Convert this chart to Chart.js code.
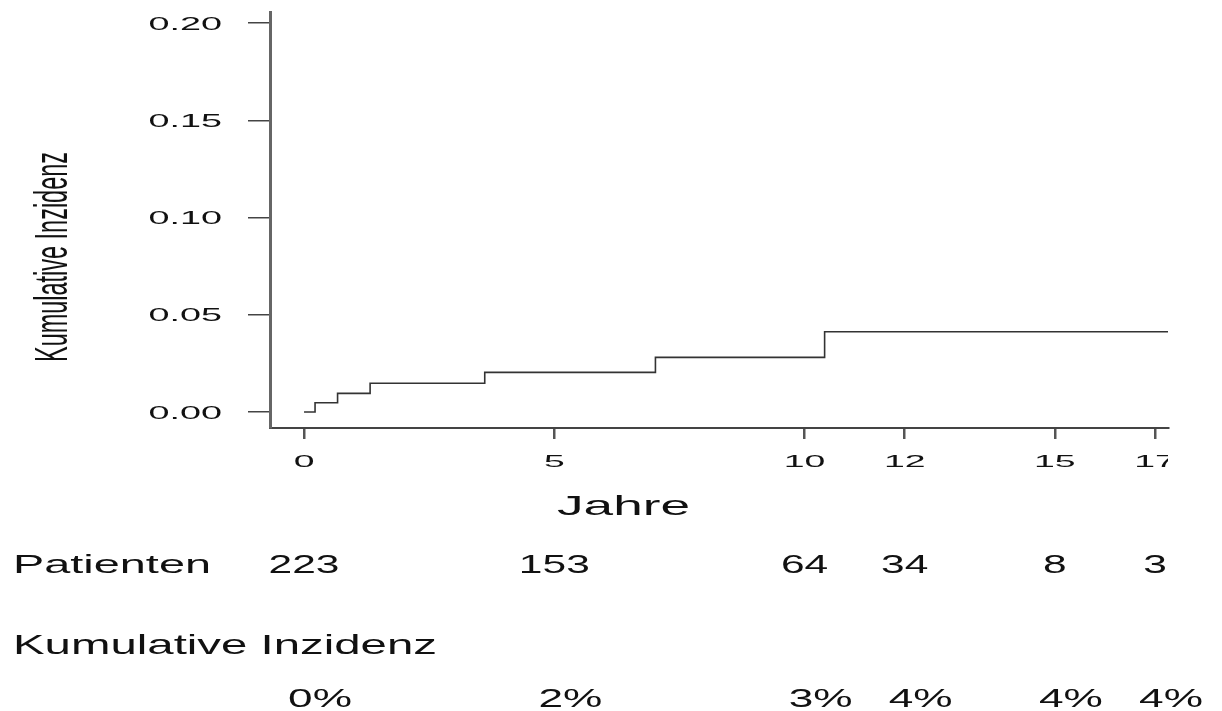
<!DOCTYPE html>
<html>
<head>
<meta charset="utf-8">
<script src="https://cdn.jsdelivr.net/npm/chart.js@4/dist/chart.umd.min.js"></script>
<style>
  html, body { margin: 0; padding: 0; background: #fff; }
  #wrap { width: 1222px; height: 711px; }
</style>
</head>
<body>
<div id="wrap"><canvas id="c" width="1222" height="711"></canvas></div>
<script>
// step curve (years, cumulative incidence)
const eventYears = [0, 0.22, 0.67, 1.32, 3.61, 7.02, 10.4, 17.26];
const cumIncidence = [0, 0.0048, 0.0096, 0.0148, 0.0204, 0.0281, 0.0413, 0.0413];

const xTickValues = [0, 5, 10, 12, 15, 17];
const yTickValues = [0, 0.05, 0.10, 0.15, 0.20];
const yTickLabels = ['0.00', '0.05', '0.10', '0.15', '0.20'];

// table under the plot
const tableYears = [0, 5, 10, 12, 15, 17];
const patients = [223, 153, 64, 34, 8, 3];
const incidencePct = ['0%', '2%', '3%', '4%', '4%', '4%'];

const FONT = '"Liberation Sans", Arial, sans-serif';

function txt(ctx, s, x, y, size, sx, align, family) {
  ctx.save();
  ctx.font = size + 'px ' + (family || FONT);
  ctx.textAlign = align || 'left';
  ctx.textBaseline = 'alphabetic';
  ctx.translate(x, y);
  ctx.scale(sx, 1);
  ctx.fillText(s, 0, 0);
  ctx.restore();
}

function fitTxt(ctx, s, x, y, size, width, align, family) {
  ctx.save();
  ctx.font = size + 'px ' + (family || FONT);
  const w = ctx.measureText(s).width;
  ctx.restore();
  txt(ctx, s, x, y, size, width / w, align, family);
}

const labelsPlugin = {
  id: 'labels',
  afterDraw(chart) {
    const ctx = chart.ctx;
    const xs = chart.scales.x, ys = chart.scales.y;
    ctx.fillStyle = '#111';

    // y tick labels
    yTickValues.forEach((v, i) => {
      txt(ctx, yTickLabels[i], 222, ys.getPixelForValue(v) + 6.5, 18, 2.1, 'right');
    });

    // x tick labels (the last one is cut at the axis end)
    ctx.save();
    ctx.beginPath();
    ctx.rect(0, 0, chart.chartArea.right, chart.height);
    ctx.clip();
    xTickValues.forEach(v => {
      txt(ctx, String(v), xs.getPixelForValue(v), 467, 17, 2.2, 'center');
    });
    ctx.restore();

    fitTxt(ctx, 'Jahre', 557, 515, 28, 133, 'left');

    // rotated y title
    ctx.save();
    ctx.translate(67, 257);
    ctx.rotate(-Math.PI / 2);
    fitTxt(ctx, 'Kumulative Inzidenz', 0, 0, 47, 210, 'center', '"Liberation Sans Narrow", "Liberation Sans", sans-serif');
    ctx.restore();

    fitTxt(ctx, 'Patienten', 13, 573, 25, 198, 'left');
    tableYears.forEach((v, i) => {
      txt(ctx, String(patients[i]), xs.getPixelForValue(v), 573, 25, 1.7, 'center');
    });

    fitTxt(ctx, 'Kumulative Inzidenz', 13, 654, 28, 424, 'left');
    tableYears.forEach((v, i) => {
      txt(ctx, incidencePct[i], xs.getPixelForValue(v) + 16, 707, 26, 1.7, 'center');
    });
  }
};

new Chart(document.getElementById('c'), {
  type: 'line',
  data: {
    datasets: [{
      data: eventYears.map((t, i) => ({ x: t, y: cumIncidence[i] })),
      stepped: true,
      borderColor: '#333',
      borderWidth: 1.6,
      pointRadius: 0,
      fill: false
    }]
  },
  options: {
    responsive: false,
    animation: false,
    layout: { padding: { left: 248, right: 54, top: 12, bottom: 272 } },
    plugins: { legend: { display: false }, tooltip: { enabled: false } },
    scales: {
      x: {
        type: 'linear',
        min: -0.68,
        max: 17.26,
        afterBuildTicks: s => { s.ticks = xTickValues.map(v => ({ value: v })); },
        ticks: { display: false },
        grid: { drawOnChartArea: false, drawTicks: true, tickLength: 11, lineWidth: 2.5, color: '#555' },
        border: { display: true, color: '#444', width: 2 }
      },
      y: {
        type: 'linear',
        min: -0.0082,
        max: 0.2057,
        afterBuildTicks: s => { s.ticks = yTickValues.map(v => ({ value: v })); },
        ticks: { display: false },
        grid: { drawOnChartArea: false, drawTicks: true, tickLength: 22, lineWidth: 1.5, color: '#444' },
        border: { display: true, color: '#666', width: 3 }
      }
    }
  },
  plugins: [labelsPlugin]
});
</script>
</body>
</html>
